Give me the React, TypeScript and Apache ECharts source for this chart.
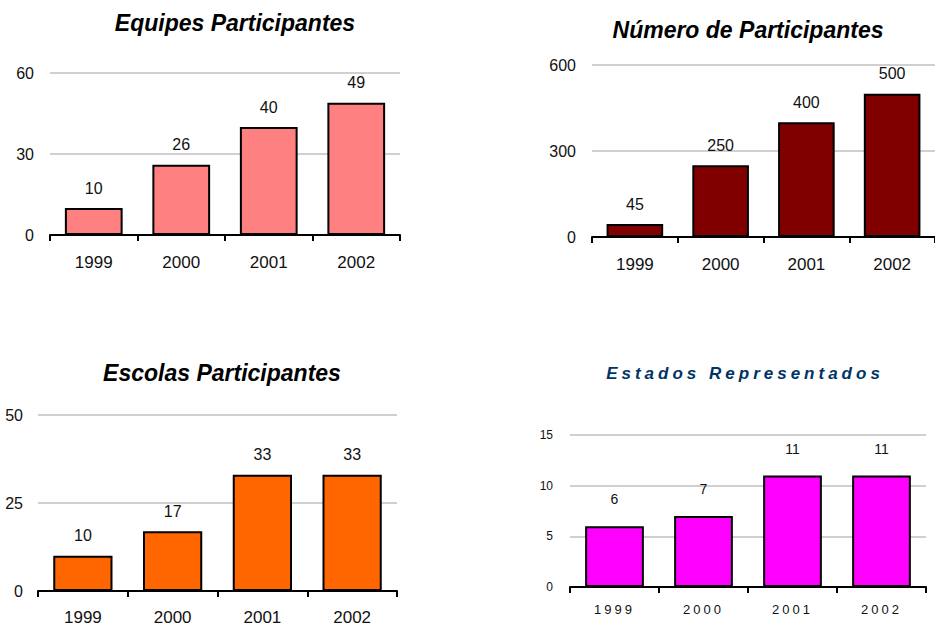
import React, { useEffect, useRef } from 'react';
import * as echarts from 'echarts';

// ---- data ----
const years = ['1999', '2000', '2001', '2002'];
const equipes = [10, 26, 40, 49];
const participantes = [45, 250, 400, 500];
const escolas = [10, 17, 33, 33];
const estados = [6, 7, 11, 11];

const titles = [
  'Equipes Participantes',
  'Número de Participantes',
  'Escolas Participantes',
  'Estados Representados',
];
const yMax = [60, 600, 50, 15];
const yStep = [30, 300, 25, 5];

const seriesData = [equipes, participantes, escolas, estados];

// ---- layout / style ----
const FONT = '"Liberation Sans", Arial, sans-serif';
const panels = [
  {
    grid: { left: 50, top: 73, width: 350, height: 162 },
    title: { x: 235, y: 23, size: 23, color: '#000' },
    color: '#FF8080',
    catFont: 17, catMargin: 19, yFont: 16, yMargin: 16, valFont: 16, valDist: 12,
  },
  {
    grid: { left: 592, top: 65, width: 352, height: 172 },
    title: { x: 748, y: 30, size: 23, color: '#000' },
    color: '#800000',
    catFont: 17, catMargin: 19, yFont: 16, yMargin: 16, valFont: 16, valDist: 12,
  },
  {
    grid: { left: 38, top: 415, width: 359, height: 176 },
    title: { x: 222, y: 373, size: 23, color: '#000' },
    color: '#FF6600',
    catFont: 17, catMargin: 18, yFont: 16, yMargin: 15, valFont: 16, valDist: 12,
  },
  {
    grid: { left: 570, top: 435, width: 356, height: 152 },
    title: { x: 745, y: 373, size: 17, color: '#003366' },
    color: '#FF00FF',
    catFont: 13, catMargin: 16, yFont: 12, yMargin: 17, valFont: 14, valDist: 20,
  },
];

export default function App() {
  const ref = useRef<HTMLDivElement>(null);

  useEffect(() => {
    const el = ref.current;
    if (!el) return;
    const chart = echarts.init(el, undefined, { renderer: 'svg' });

    const option: any = {
      animation: false,
      backgroundColor: '#fff',
      title: panels.map((p, i) => ({
        text: titles[i],
        left: p.title.x,
        top: p.title.y,
        padding: 0,
        textAlign: 'center',
        textVerticalAlign: 'middle',
        textStyle: {
          fontFamily: FONT,
          fontSize: p.title.size,
          fontWeight: 'bold',
          fontStyle: 'italic',
          color: p.title.color,
        },
      })),
      grid: panels.map((p) => ({ ...p.grid, containLabel: false })),
      xAxis: panels.map((p, i) => ({
        type: 'category',
        gridIndex: i,
        data: years,
        axisLine: { show: true, lineStyle: { color: '#000', width: 2 } },
        axisTick: { show: true, length: 6, lineStyle: { color: '#000', width: 2 } },
        axisLabel: { color: '#111', fontSize: p.catFont, fontFamily: FONT, margin: p.catMargin },
        splitLine: { show: false },
      })),
      yAxis: panels.map((p, i) => ({
        type: 'value',
        gridIndex: i,
        min: 0,
        max: yMax[i],
        interval: yStep[i],
        axisLine: { show: false },
        axisTick: { show: false },
        axisLabel: { color: '#111', fontSize: p.yFont, fontFamily: FONT, margin: p.yMargin },
        splitLine: { show: true, lineStyle: { color: '#C0C0C0', width: 1.5 } },
      })),
      series: panels.map((p, i) => ({
        type: 'bar',
        xAxisIndex: i,
        yAxisIndex: i,
        data: seriesData[i],
        barCategoryGap: '34%',
        itemStyle: { color: p.color, borderColor: '#000', borderWidth: 2 },
        label: {
          show: true,
          position: 'top',
          distance: p.valDist,
          fontSize: p.valFont,
          fontFamily: FONT,
          color: '#111',
        },
      })),
    };

    chart.setOption(option);

    const applySpacing = () => {
      const texts = el.querySelectorAll('text');
      texts.forEach((t) => {
        const s = (t.textContent || '').trim();
        if (s === titles[3]) {
          (t as any).style.letterSpacing = '4px';
        } else if (/^\d{4}$/.test(s)) {
          const r = t.getBoundingClientRect();
          if (r.left > 540 && r.top > 580) (t as any).style.letterSpacing = '3px';
        }
      });
    };
    applySpacing();
    chart.on('finished', applySpacing);
    const tm = setTimeout(applySpacing, 50);

    return () => {
      clearTimeout(tm);
      chart.dispose();
    };
  }, []);

  return (
    <div
      ref={ref}
      style={{ position: 'absolute', left: 0, top: 0, width: 935, height: 626, background: '#fff' }}
    />
  );
}
